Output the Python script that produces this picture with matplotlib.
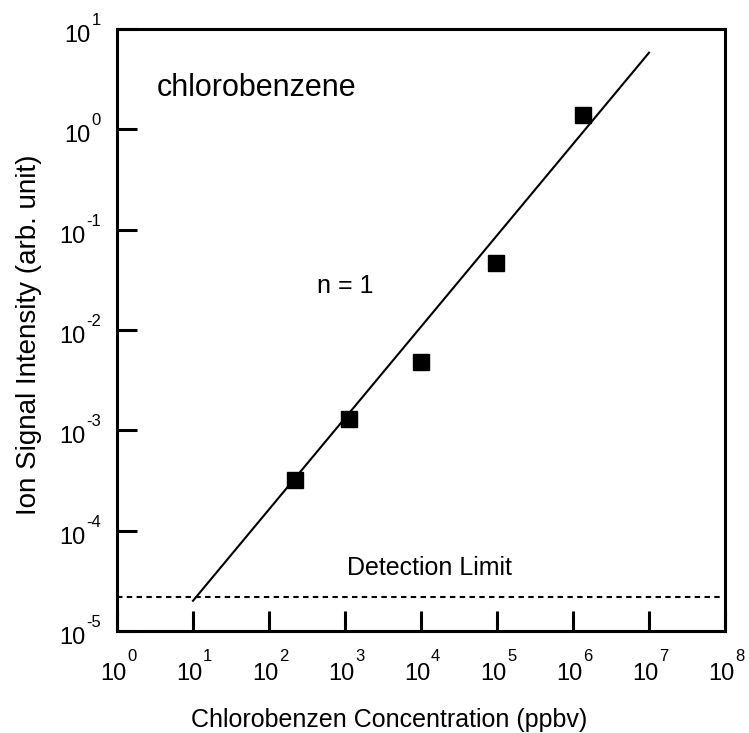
import numpy as np
import matplotlib
matplotlib.use("Agg")
import matplotlib.pyplot as plt
from matplotlib.transforms import blended_transform_factory

plt.rcParams['font.family'] = ['Liberation Sans', 'DejaVu Sans']

# dados
conc = [220, 1130, 1.0e4, 9.7e4, 1.35e6]          # ppbv
signal = [3.2e-4, 1.29e-3, 4.8e-3, 4.7e-2, 1.39]   # arb. unit
fit_x = [10, 1e7]
fit_y = [2.0e-5, 5.8]
detection_limit = 2.2e-5
x_exps = list(range(0, 9))
y_exps = list(range(-5, 2))

fig = plt.figure(figsize=(7.49, 7.33), dpi=100)
ax = fig.add_axes([0.1562, 0.1392, 0.8118, 0.8213])

ax.plot(fit_x, fit_y, color='k', lw=1.5)
ax.plot(conc, signal, ls='none', marker='s', ms=11.5, color='k')
ax.axhline(detection_limit, color='k', lw=1.5, ls=(0, (2.6, 2.1)))

ax.set_xscale('log')
ax.set_yscale('log')
ax.set_xlim(1e0, 1e8)
ax.set_ylim(1e-5, 1e1)

ax.set_xticks([10.0**k for k in x_exps])
ax.set_yticks([10.0**k for k in y_exps])
ax.minorticks_off()
ax.set_xticklabels([])
ax.set_yticklabels([])
ax.tick_params(direction='in', length=14.4, width=2.2, top=False, right=False)
for s in ax.spines.values():
    s.set_linewidth(2.2)

# rótulos dos ticks no estilo 10^n
tx = blended_transform_factory(ax.transData, ax.transAxes)
for k in x_exps:
    ax.annotate('10', xy=(10.0**k, 0), xycoords=tx, xytext=(-4, -49),
                textcoords='offset pixels', ha='center', va='baseline',
                fontsize=17, annotation_clip=False)
    ax.annotate(str(k), xy=(10.0**k, 0), xycoords=tx, xytext=(10, -30),
                textcoords='offset pixels', ha='left', va='baseline',
                fontsize=12, annotation_clip=False)

ty = blended_transform_factory(ax.transAxes, ax.transData)
for k in y_exps:
    e = ax.annotate(str(k), xy=(0, 10.0**k), xycoords=ty, xytext=(-16, 4),
                    textcoords='offset pixels', ha='right', va='baseline',
                    fontsize=12, annotation_clip=False)
    ax.annotate('10', xy=(0, 0), xycoords=e, xytext=(-1, -14),
                textcoords='offset pixels', ha='right', va='baseline',
                fontsize=17, annotation_clip=False)

ax.set_xlabel('Chlorobenzen Concentration (ppbv)', fontsize=18, va='baseline')
ax.xaxis.set_label_coords(0.447, -0.159)
ax.set_ylabel('Ion Signal Intensity (arb. unit)', fontsize=20, va='center')
ax.yaxis.set_label_coords(-0.145, 0.4925)

ax.text(0.0658, 0.889, 'chlorobenzene', transform=ax.transAxes, fontsize=22,
        va='baseline')
ax.text(0.329, 0.561, 'n = 1', transform=ax.transAxes, fontsize=18,
        va='baseline')
ax.text(0.378, 0.093, 'Detection Limit', transform=ax.transAxes, fontsize=18,
        va='baseline')

fig.savefig('out.png', dpi=100)
